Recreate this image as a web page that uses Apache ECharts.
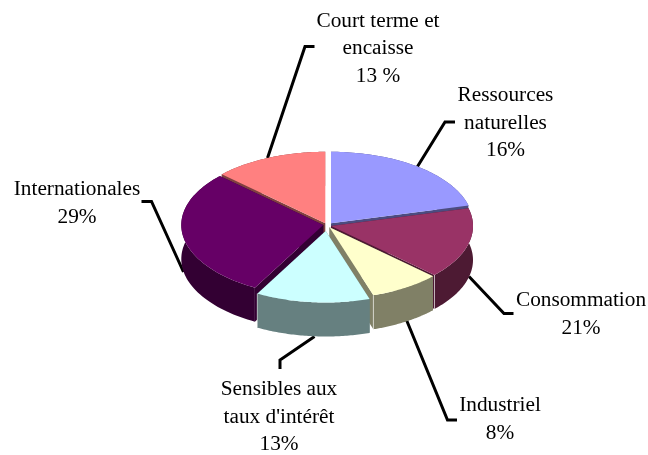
<!DOCTYPE html>
<html>
<head>
    <meta charset="utf-8"/>
    <style>
        html,body { height:100%; width:100%; margin:0; padding:0; background:#fff; }
    </style>
</head>
<body>

<div id="pie" style="width:648px;height:455px"></div>

<script src="https://cdn.jsdelivr.net/npm/echarts@6/dist/echarts.min.js"></script>
<script type="text/javascript">

 // part of each slice as drawn
 var categories = ['Ressources naturelles', 'Consommation', 'Industriel', "Sensibles aux taux d'intérêt", 'Internationales', 'Court terme et encaisse'];
 var sliceValues = [21, 16, 8, 13, 29, 13];
 // the printed labels do not follow the slices for the first two, kept as printed
 var labelTexts = ['Ressources\nnaturelles\n16%', 'Consommation\n21%', 'Industriel\n8%', "Sensibles aux\ntaux d'intérêt\n13%", 'Internationales\n29%', 'Court terme et\nencaisse\n13 %'];
 var topColors = ['#9999FF', '#993366', '#FFFFCC', '#CCFFFF', '#660066', '#FF8080'];
 var sideColors = ['#4C4C80', '#4D1A33', '#808066', '#668080', '#330033', '#804040'];

 // 3d look
 var RX = 142, RY = 71.5, DEPTH = 34;
 var apexes = [[331, 223.3], [331, 226], [329.5, 227.3], [325.7, 231], [323.3, 225], [325.3, 223.3]];
 var paintRank = [1, 3, 4, 5, 2, 0];

 // label centers and leader lines
 var labelPos = [[505.5, 123], [581, 314.5], [500, 419.5], [279, 417], [77, 203.5], [378, 48.5]];
 var leaders = [
    [[417.5, 166.5], [445, 122], [455, 122]],
    [[469, 276.5], [504, 313.5], [513.5, 313.5]],
    [[406.5, 320], [447.5, 420], [457, 420]],
    [[314.5, 336.5], [280, 360], [280, 369]],
    [[183.5, 272], [151.5, 201.5], [141.5, 201.5]],
    [[267.5, 158], [305, 46.5], [314.5, 46.5]]
 ];

 var total = sliceValues.reduce(function (a, b) { return a + b; }, 0);
 var starts = [];
 sliceValues.reduce(function (sum, v, i) { starts[i] = sum; return sum + v; }, 0);

 function rimPoint(apex, pct, dy) {
    var a = pct / total * 2 * Math.PI;
    return [apex[0] + RX * Math.sin(a), apex[1] - RY * Math.cos(a) + dy];
 }

 function arc(apex, from, to, dy) {
    var pts = [], n = 60;
    for (var i = 0; i <= n; i++) {
        pts.push(rimPoint(apex, from + (to - from) * i / n, dy));
    }
    return pts;
 }

 function renderSlice(params, api) {
    var i = params.dataIndex;
    var from = api.value(0), to = from + api.value(1);
    var apex = apexes[i];
    var rank = paintRank[i] * 10;
    var side = { fill: sideColors[i] };
    var low = [apex[0], apex[1] + DEPTH];

    // both radial walls
    var wall1 = [apex, rimPoint(apex, from, 0), rimPoint(apex, from, DEPTH), low];
    var wall2 = [apex, rimPoint(apex, to, 0), rimPoint(apex, to, DEPTH), low];
    // outer rim
    var rim = arc(apex, from, to, 0).concat(arc(apex, to, from, DEPTH));
    var top = [apex].concat(arc(apex, from, to, 0));

    return {
        type: 'group',
        children: [
            { type: 'polygon', z2: rank, shape: { points: wall1 }, style: side },
            { type: 'polygon', z2: rank + 1, shape: { points: wall2 }, style: side },
            { type: 'polygon', z2: rank + 2, shape: { points: rim }, style: side },
            // thin lit edge where the rim turns into the wall
            { type: 'polyline', z2: rank + 3, shape: { points: [rimPoint(apex, to, 0), rimPoint(apex, to, DEPTH)] }, style: { stroke: 'rgba(255,255,255,0.55)', lineWidth: 1, fill: null } },
            { type: 'polygon', z2: rank + 4, shape: { points: top }, style: { fill: topColors[i] } }
        ]
    };
 }

 var labelGraphics = [];
 categories.forEach(function (name, i) {
    labelGraphics.push({
        type: 'polyline',
        shape: { points: leaders[i] },
        style: { stroke: '#000', lineWidth: 3, fill: null }
    });
    labelGraphics.push({
        type: 'text',
        x: labelPos[i][0],
        y: labelPos[i][1],
        style: {
            text: labelTexts[i],
            fill: '#000',
            font: '21.3px "Liberation Serif", serif',
            lineHeight: 27.5,
            align: 'center',
            verticalAlign: 'middle'
        }
    });
 });

 var myPieChart = echarts.init(document.getElementById('pie'), null, { renderer: 'canvas' });
 myPieChart.setOption({
    animation: false,
    backgroundColor: '#fff',
    graphic: labelGraphics,
    series: [
        {
            type: 'custom',
            coordinateSystem: 'none',
            renderItem: renderSlice,
            encode: { itemName: 2 },
            data: sliceValues.map(function (v, i) { return [starts[i], v, categories[i]]; })
        }
    ]
 });

</script>
</body>
</html>
